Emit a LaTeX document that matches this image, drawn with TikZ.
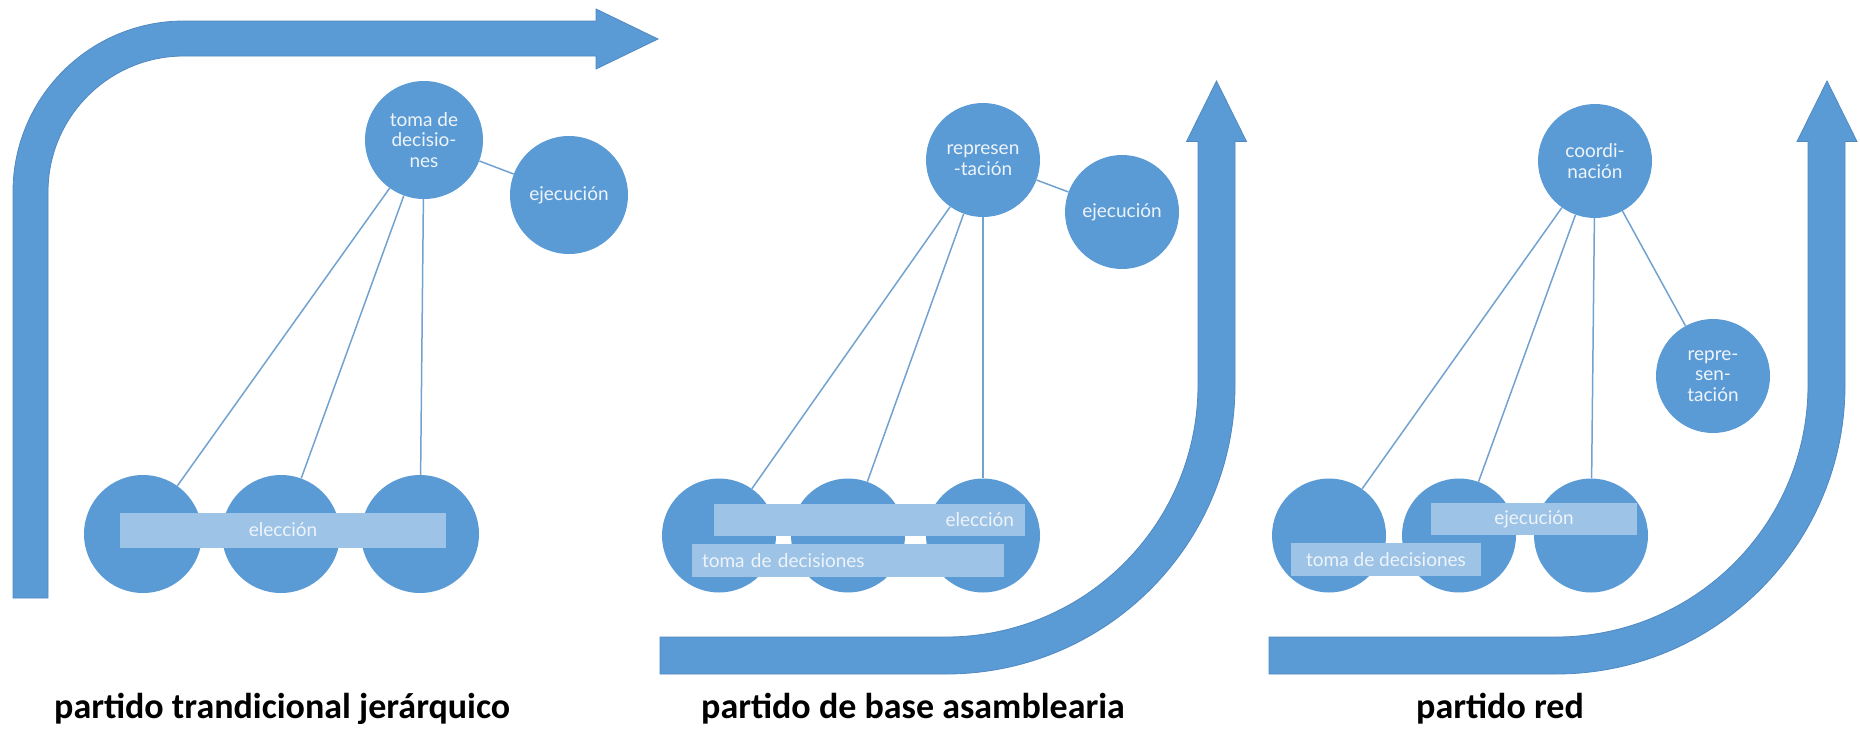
\documentclass[tikz,border=0pt]{standalone}
\usepackage{fontspec}
\setmainfont{Lato}
\newfontfamily\titlefont{Carlito}
\definecolor{cblue}{HTML}{5B9BD5}
\definecolor{cedge}{HTML}{5089C2}
\definecolor{cbar}{HTML}{9DC3E6}
\definecolor{cline}{HTML}{72A2D0}
\definecolor{ctext}{HTML}{EEF4FB}
\tikzset{
  bigarrow/.style={fill=cblue, draw=cedge, line width=0.8pt},
  circA/.style={circle, fill=cblue, draw=none, minimum size=118pt, inner sep=0pt,
    text=ctext, align=center, font=\fontsize{19}{20.5}\selectfont},
  circB/.style={circA, minimum size=114pt},
  barbox/.style={rectangle, fill=cbar, draw=none, inner ysep=0pt,
    text=ctext, font=\fontsize{19}{20.5}\selectfont},
  conn/.style={draw=cline, line width=1.5pt},
  title/.style={inner sep=0pt, anchor=base west, text=black,
    font=\titlefont\bfseries\fontsize{36}{40}\selectfont}
}
\begin{document}
\begin{tikzpicture}[x=1pt,y=-1pt]
\useasboundingbox (0,0) rectangle (1860,728);

% ---------- big arrows ----------
\path[bigarrow] (13,598) -- (13,192) arc[start angle=180,end angle=270,radius=171]
  -- (596,21) -- (596,9) -- (658,39) -- (596,69) -- (596,56) -- (184,56)
  arc[start angle=270,end angle=180,radius=136] -- (48,598) -- cycle;

\path[bigarrow] (660,637) -- (946,637) arc[start angle=90,end angle=0,radius=252]
  -- (1198,141.5) -- (1186.5,141.5) -- (1216.5,81) -- (1246.5,141.5) -- (1235,141.5)
  -- (1235,385) arc[start angle=0,end angle=90,radius=289] -- (660,674) -- cycle;

\path[bigarrow] (1269,637) -- (1556,637) arc[start angle=90,end angle=0,radius=252]
  -- (1808,141.5) -- (1797,141.5) -- (1827,81) -- (1857,141.5) -- (1845,141.5)
  -- (1845,385) arc[start angle=0,end angle=90,radius=289] -- (1269,674) -- cycle;

% ---------- panel 1 ----------
\node[circA] (t1) at (424,140) {toma de\\decisio-\\nes};
\node[circA] (e1) at (569,195) {ejecución};
\node[circA] (b11) at (143,534) {};
\node[circA] (b12) at (281,534) {};
\node[circA] (b13) at (420,534) {};
\draw[conn] (t1) -- (e1);
\draw[conn] (t1) -- (b11);
\draw[conn] (t1) -- (b12);
\draw[conn] (t1) -- (b13);
\node[barbox, minimum width=326pt, minimum height=35pt] (el1) at (283,530) {elección};

% ---------- panel 2 ----------
\node[circB] (t2) at (983,160) {represen\\-tación};
\node[circB] (e2) at (1122,212) {ejecución};
\node[circB] (b21) at (719,535.5) {};
\node[circB] (b22) at (848,535.5) {};
\node[circB] (b23) at (983,535.5) {};
\draw[conn] (t2) -- (e2);
\draw[conn] (t2) -- (b21);
\draw[conn] (t2) -- (b22);
\draw[conn] (t2) -- (b23);
\node[barbox, minimum height=32pt, inner xsep=11pt, text width=289pt, align=right] (el2) at (869.5,520) {elección};
\node[barbox, minimum height=33pt, inner xsep=10pt, text width=292pt, align=left] (tm2) at (848,560.5) {toma de decisiones};

% ---------- panel 3 ----------
\node[circB] (t3) at (1595,161) {coordi-\\nación};
\node[circB] (r3) at (1713,376) {repre-\\sen-\\tación};
\node[circB] (b31) at (1329,535.5) {};
\node[circB] (b32) at (1459,535.5) {};
\node[circB] (b33) at (1591,535.5) {};
\draw[conn] (t3) -- (r3);
\draw[conn] (t3) -- (b31);
\draw[conn] (t3) -- (b32);
\draw[conn] (t3) -- (b33);
\node[barbox, minimum width=206pt, minimum height=32pt] (ej3) at (1534,519) {ejecución};
\node[barbox, minimum width=190pt, minimum height=33pt] (tm3) at (1386,559.5) {toma de decisiones};

% ---------- titles ----------
\node[title] (ti1) at (54,718) {partido trandicional jerárquico};
\node[title] (ti2) at (701,718) {partido de base asamblearia};
\node[title] (ti3) at (1416,718) {partido red};
\end{tikzpicture}
\end{document}
